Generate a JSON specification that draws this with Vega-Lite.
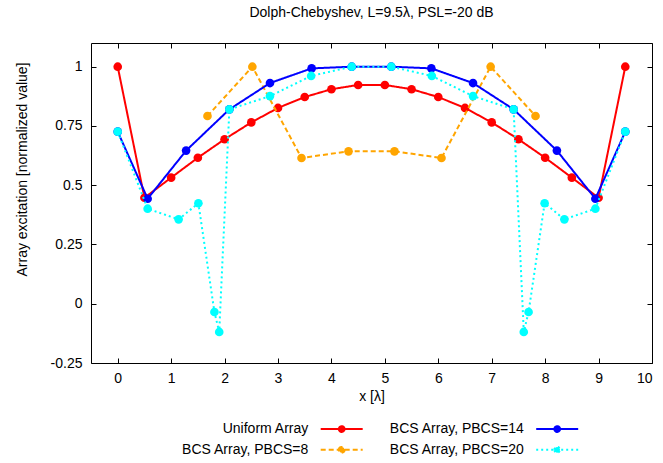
{
  "$schema": "https://vega.github.io/schema/vega-lite/v6.json",
  "autosize": "none",
  "width": 561,
  "height": 320,
  "padding": {"left": 91, "top": 43, "right": 11, "bottom": 100},
  "background": "white",
  "config": {
    "font": "Liberation Sans",
    "view": {"stroke": "black", "strokeWidth": 1},
    "axis": {"grid": false, "domain": false, "tickColor": "black", "tickSize": -5, "tickWidth": 1, "labelFontSize": 14, "labelColor": "black", "titleFontSize": 14, "titleColor": "black", "titleFontWeight": "normal", "labelFont": "Liberation Sans", "titleFont": "Liberation Sans"}
  },
  "title": {"text": "Dolph-Chebyshev, L=9.5λ, PSL=-20 dB", "fontSize": 14, "fontWeight": "normal", "font": "Liberation Sans", "color": "black", "offset": 23},
  "data": {"values": [
    {"series": "Uniform Array", "x": 0, "y": 1},
    {"series": "Uniform Array", "x": 0.5, "y": 0.447},
    {"series": "Uniform Array", "x": 1, "y": 0.532},
    {"series": "Uniform Array", "x": 1.5, "y": 0.616},
    {"series": "Uniform Array", "x": 2, "y": 0.694},
    {"series": "Uniform Array", "x": 2.5, "y": 0.765},
    {"series": "Uniform Array", "x": 3, "y": 0.826},
    {"series": "Uniform Array", "x": 3.5, "y": 0.872},
    {"series": "Uniform Array", "x": 4, "y": 0.905},
    {"series": "Uniform Array", "x": 4.5, "y": 0.923},
    {"series": "Uniform Array", "x": 5, "y": 0.923},
    {"series": "Uniform Array", "x": 5.5, "y": 0.905},
    {"series": "Uniform Array", "x": 6, "y": 0.872},
    {"series": "Uniform Array", "x": 6.5, "y": 0.826},
    {"series": "Uniform Array", "x": 7, "y": 0.765},
    {"series": "Uniform Array", "x": 7.5, "y": 0.694},
    {"series": "Uniform Array", "x": 8, "y": 0.616},
    {"series": "Uniform Array", "x": 8.5, "y": 0.532},
    {"series": "Uniform Array", "x": 9, "y": 0.447},
    {"series": "Uniform Array", "x": 9.5, "y": 1},
    {"series": "BCS Array, PBCS=8", "x": 1.68, "y": 0.792},
    {"series": "BCS Array, PBCS=8", "x": 2.52, "y": 1},
    {"series": "BCS Array, PBCS=8", "x": 3.44, "y": 0.615},
    {"series": "BCS Array, PBCS=8", "x": 4.32, "y": 0.643},
    {"series": "BCS Array, PBCS=8", "x": 5.18, "y": 0.643},
    {"series": "BCS Array, PBCS=8", "x": 6.06, "y": 0.615},
    {"series": "BCS Array, PBCS=8", "x": 6.98, "y": 1},
    {"series": "BCS Array, PBCS=8", "x": 7.82, "y": 0.792},
    {"series": "BCS Array, PBCS=14", "x": 0, "y": 0.726},
    {"series": "BCS Array, PBCS=14", "x": 0.56, "y": 0.443},
    {"series": "BCS Array, PBCS=14", "x": 1.28, "y": 0.646},
    {"series": "BCS Array, PBCS=14", "x": 2.09, "y": 0.82},
    {"series": "BCS Array, PBCS=14", "x": 2.85, "y": 0.931},
    {"series": "BCS Array, PBCS=14", "x": 3.63, "y": 0.993},
    {"series": "BCS Array, PBCS=14", "x": 4.38, "y": 1},
    {"series": "BCS Array, PBCS=14", "x": 5.12, "y": 1},
    {"series": "BCS Array, PBCS=14", "x": 5.87, "y": 0.993},
    {"series": "BCS Array, PBCS=14", "x": 6.65, "y": 0.931},
    {"series": "BCS Array, PBCS=14", "x": 7.41, "y": 0.82},
    {"series": "BCS Array, PBCS=14", "x": 8.22, "y": 0.646},
    {"series": "BCS Array, PBCS=14", "x": 8.94, "y": 0.443},
    {"series": "BCS Array, PBCS=14", "x": 9.5, "y": 0.726},
    {"series": "BCS Array, PBCS=20", "x": 0, "y": 0.726},
    {"series": "BCS Array, PBCS=20", "x": 0.56, "y": 0.401},
    {"series": "BCS Array, PBCS=20", "x": 1.14, "y": 0.356},
    {"series": "BCS Array, PBCS=20", "x": 1.51, "y": 0.424},
    {"series": "BCS Array, PBCS=20", "x": 1.81, "y": -0.035},
    {"series": "BCS Array, PBCS=20", "x": 1.9, "y": -0.119},
    {"series": "BCS Array, PBCS=20", "x": 2.09, "y": 0.82},
    {"series": "BCS Array, PBCS=20", "x": 2.85, "y": 0.876},
    {"series": "BCS Array, PBCS=20", "x": 3.62, "y": 0.961},
    {"series": "BCS Array, PBCS=20", "x": 4.38, "y": 1},
    {"series": "BCS Array, PBCS=20", "x": 5.12, "y": 1},
    {"series": "BCS Array, PBCS=20", "x": 5.88, "y": 0.961},
    {"series": "BCS Array, PBCS=20", "x": 6.65, "y": 0.876},
    {"series": "BCS Array, PBCS=20", "x": 7.41, "y": 0.82},
    {"series": "BCS Array, PBCS=20", "x": 7.6, "y": -0.119},
    {"series": "BCS Array, PBCS=20", "x": 7.69, "y": -0.035},
    {"series": "BCS Array, PBCS=20", "x": 7.99, "y": 0.424},
    {"series": "BCS Array, PBCS=20", "x": 8.36, "y": 0.356},
    {"series": "BCS Array, PBCS=20", "x": 8.94, "y": 0.401},
    {"series": "BCS Array, PBCS=20", "x": 9.5, "y": 0.726}
  ]},
  "layer": [
    {
      "encoding": {
        "x": {"field": "x", "type": "quantitative", "scale": {"domain": [-0.5, 10], "nice": false, "zero": false},
          "axis": {"values": [0,1,2,3,4,5,6,7,8,9,10], "format": "d", "title": "x [λ]", "labelPadding": 13, "titlePadding": 4}},
        "y": {"field": "y", "type": "quantitative", "scale": {"domain": [-0.25, 1.1], "nice": false, "zero": false},
          "axis": {"values": [-0.25, 0, 0.25, 0.5, 0.75, 1], "labelExpr": "replace(format(datum.value, '~g'), '−', '-')", "title": "Array excitation [normalized value]", "labelPadding": 14, "titleX": -68.7, "titleY": 126, "titleAlign": "center", "titleBaseline": "middle", "titleAngle": -90}},
        "color": {"field": "series", "type": "nominal",
          "scale": {"domain": ["Uniform Array", "BCS Array, PBCS=8", "BCS Array, PBCS=14", "BCS Array, PBCS=20"], "range": ["#ff0000", "#ffa500", "#0000ff", "#00ffff"]},
          "legend": {"orient": "none", "legendX": 77.3, "legendY": 375.3, "title": null, "direction": "vertical", "columns": 2, "columnPadding": 16.5, "rowPadding": 3, "padding": 0,
            "symbolType": "M-2.2105,0L2.2105,0M-0.3,0A0.3,0.3,0,1,1,0.3,0A0.3,0.3,0,1,1,-0.3,0Z", "symbolSize": 361, "symbolStrokeWidth": 2, "symbolOffset": 162.9,
            "labelOffset": -43.9, "labelAlign": "right", "labelBaseline": "middle", "labelFontSize": 14, "labelFont": "Liberation Sans", "labelColor": "black", "labelLimit": 300,
            "encode": {"symbols": {"update": {"fill": {"scale": "color", "field": "value"}, "stroke": {"scale": "color", "field": "value"}}}}}},
        "strokeDash": {"field": "series", "type": "nominal",
          "scale": {"domain": ["Uniform Array", "BCS Array, PBCS=8", "BCS Array, PBCS=14", "BCS Array, PBCS=20"], "range": [[1, 0], [5, 3], [1, 0], [2, 3]]},
          "legend": {"orient": "none", "legendX": 77.3, "legendY": 375.3, "title": null, "direction": "vertical", "columns": 2, "columnPadding": 16.5, "rowPadding": 3, "padding": 0,
            "symbolType": "M-2.2105,0L2.2105,0M-0.3,0A0.3,0.3,0,1,1,0.3,0A0.3,0.3,0,1,1,-0.3,0Z", "symbolSize": 361, "symbolStrokeWidth": 2, "symbolOffset": 162.9,
            "labelOffset": -43.9, "labelAlign": "right", "labelBaseline": "middle", "labelFontSize": 14, "labelFont": "Liberation Sans", "labelColor": "black", "labelLimit": 300}}
      },
      "layer": [
        {"transform": [{"filter": "datum.series == 'Uniform Array'"}], "mark": {"type": "line", "strokeWidth": 2, "point": {"filled": true, "size": 75, "opacity": 1}}},
        {"transform": [{"filter": "datum.series == 'BCS Array, PBCS=8'"}], "mark": {"type": "line", "strokeWidth": 2, "point": {"filled": true, "size": 75, "opacity": 1}}},
        {"transform": [{"filter": "datum.series == 'BCS Array, PBCS=14'"}], "mark": {"type": "line", "strokeWidth": 2, "point": {"filled": true, "size": 75, "opacity": 1}}},
        {"transform": [{"filter": "datum.series == 'BCS Array, PBCS=20'"}], "mark": {"type": "line", "strokeWidth": 2, "point": {"filled": true, "size": 75, "opacity": 1}}}
      ]
    },
    {
      "mark": {"type": "point", "opacity": 0},
      "encoding": {
        "x": {"field": "x", "type": "quantitative", "scale": {"domain": [-0.5, 10], "nice": false, "zero": false},
          "axis": {"orient": "top", "values": [0,1,2,3,4,5,6,7,8,9,10], "labels": false, "title": null}},
        "y": {"field": "y", "type": "quantitative", "scale": {"domain": [-0.25, 1.1], "nice": false, "zero": false},
          "axis": {"orient": "right", "values": [-0.25, 0, 0.25, 0.5, 0.75, 1], "labels": false, "title": null}}
      }
    }
  ],
  "resolve": {"axis": {"x": "independent", "y": "independent"}}
}
